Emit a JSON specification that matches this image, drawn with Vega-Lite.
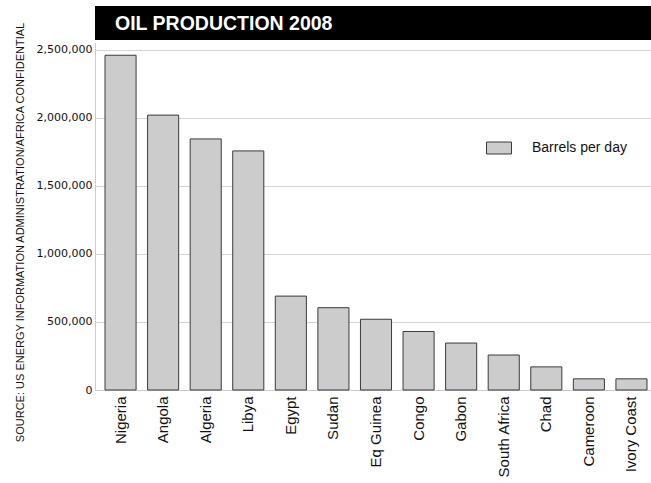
{
  "$schema": "https://vega.github.io/schema/vega-lite/v6.json",
  "background": "white",
  "padding": {"left": 14, "top": 6, "right": 0, "bottom": 0},
  "spacing": 3,
  "bounds": "flush",
  "config": {
    "view": {"stroke": null},
    "font": "Liberation Sans"
  },
  "datasets": {
    "oil": [
      {"country": "Nigeria", "barrels": 2460000},
      {"country": "Angola", "barrels": 2020000},
      {"country": "Algeria", "barrels": 1845000},
      {"country": "Libya", "barrels": 1757000},
      {"country": "Egypt", "barrels": 690000},
      {"country": "Sudan", "barrels": 605000},
      {"country": "Eq Guinea", "barrels": 520000},
      {"country": "Congo", "barrels": 430000},
      {"country": "Gabon", "barrels": 345000},
      {"country": "South Africa", "barrels": 257000},
      {"country": "Chad", "barrels": 170000},
      {"country": "Cameroon", "barrels": 82000},
      {"country": "Ivory Coast", "barrels": 82000}
    ],
    "head": [{"label": "OIL PRODUCTION 2008", "pos": 0}]
  },
  "vconcat": [
    {
      "width": 556,
      "height": 34,
      "data": {"name": "head"},
      "layer": [
        {
          "mark": {"type": "rect", "fill": "black", "stroke": null},
          "encoding": {}
        },
        {
          "mark": {
            "type": "text",
            "color": "white",
            "font": "Liberation Sans",
            "fontSize": 19.5,
            "fontWeight": "bold",
            "align": "left",
            "baseline": "middle",
            "dx": 20,
            "dy": 1
          },
          "encoding": {
            "x": {"field": "pos", "type": "quantitative", "scale": {"domain": [0, 1]}, "axis": null},
            "text": {"field": "label"}
          }
        }
      ]
    },
    {
      "width": 562,
      "height": 347,
      "data": {"name": "oil"},
      "mark": {"type": "bar", "stroke": "#3a3a3a", "strokeWidth": 1},
      "encoding": {
        "x": {
          "field": "country",
          "type": "nominal",
          "sort": null,
          "scale": {"paddingInner": 0.27, "paddingOuter": 0.235},
          "axis": {
            "title": null,
            "labelAngle": -90,
            "labelAlign": "right",
            "labelBaseline": "middle",
            "labelFont": "Liberation Sans",
            "labelFontSize": 15,
            "labelColor": "#111",
            "labelPadding": 6,
            "ticks": false,
            "domainColor": "#cccccc"
          }
        },
        "y": {
          "field": "barrels",
          "type": "quantitative",
          "scale": {"domain": [0, 2550000], "nice": false},
          "axis": {
            "title": "SOURCE: US ENERGY INFORMATION ADMINISTRATION/AFRICA CONFIDENTIAL",
            "titleFont": "Liberation Sans",
            "titleFontSize": 11,
            "titleFontWeight": "normal",
            "titleColor": "#111",
            "titlePadding": 11,
            "titleY": 189,
            "values": [0, 500000, 1000000, 1500000, 2000000, 2500000],
            "format": ",d",
            "labelFont": "DejaVu Sans",
            "labelFontSize": 11,
            "labelColor": "#111",
            "labelPadding": 3,
            "ticks": false,
            "grid": true,
            "gridColor": "#d4d4d4",
            "domainColor": "#cccccc"
          }
        },
        "color": {
          "datum": "Barrels per day",
          "type": "nominal",
          "scale": {"range": ["#cccccc"]},
          "legend": {
            "title": null,
            "orient": "none",
            "legendX": 391,
            "legendY": 129,
            "symbolType": "M-1,-0.48H1V0.48H-1Z",
            "symbolSize": 625,
            "symbolStrokeColor": "#3a3a3a",
            "symbolStrokeWidth": 1,
            "labelFont": "Liberation Sans",
            "labelFontSize": 14,
            "labelColor": "#111",
            "labelOffset": 20
          }
        }
      }
    }
  ]
}
